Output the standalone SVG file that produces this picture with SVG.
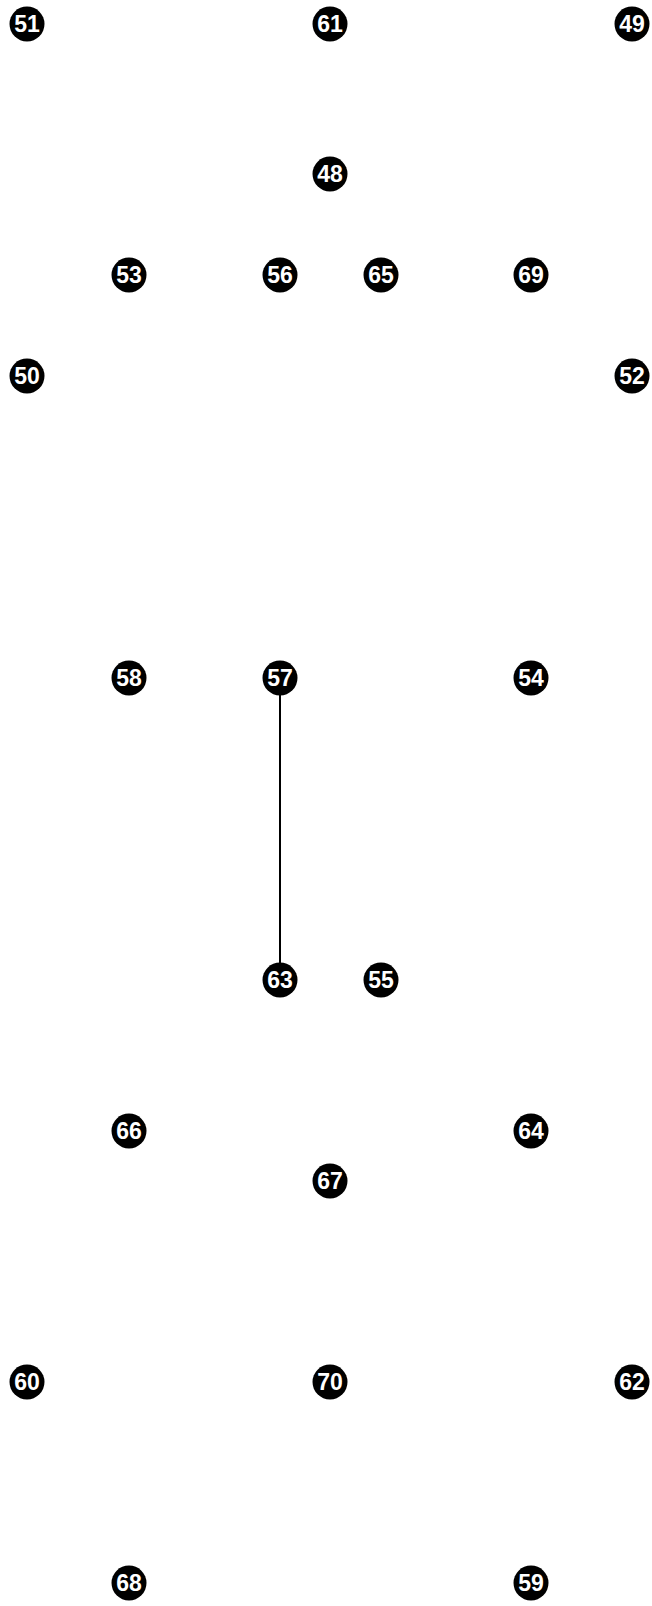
<svg xmlns="http://www.w3.org/2000/svg" width="652" height="1606" viewBox="0 0 652 1606">
<style>
.n circle{fill:#000;}
.n text{fill:#fff;font-family:"Liberation Sans",Arial,sans-serif;font-weight:bold;font-size:23px;text-anchor:middle;dominant-baseline:central;}
.e line{stroke:#000;stroke-width:2;}
</style>
<rect width="652" height="1606" fill="#fff"/>
<g id="edges" class="e">
<line x1="280" y1="678" x2="280" y2="980"/>
</g>
<g id="n51" class="n"><circle cx="27" cy="24" r="17.5"/><text x="27" y="24">51</text></g>
<g id="n61" class="n"><circle cx="330" cy="24" r="17.5"/><text x="330" y="24">61</text></g>
<g id="n49" class="n"><circle cx="632" cy="24" r="17.5"/><text x="632" y="24">49</text></g>
<g id="n48" class="n"><circle cx="330" cy="174" r="17.5"/><text x="330" y="174">48</text></g>
<g id="n53" class="n"><circle cx="129" cy="275" r="17.5"/><text x="129" y="275">53</text></g>
<g id="n56" class="n"><circle cx="280" cy="275" r="17.5"/><text x="280" y="275">56</text></g>
<g id="n65" class="n"><circle cx="381" cy="275" r="17.5"/><text x="381" y="275">65</text></g>
<g id="n69" class="n"><circle cx="531" cy="275" r="17.5"/><text x="531" y="275">69</text></g>
<g id="n50" class="n"><circle cx="27" cy="376" r="17.5"/><text x="27" y="376">50</text></g>
<g id="n52" class="n"><circle cx="632" cy="376" r="17.5"/><text x="632" y="376">52</text></g>
<g id="n58" class="n"><circle cx="129" cy="678" r="17.5"/><text x="129" y="678">58</text></g>
<g id="n57" class="n"><circle cx="280" cy="678" r="17.5"/><text x="280" y="678">57</text></g>
<g id="n54" class="n"><circle cx="531" cy="678" r="17.5"/><text x="531" y="678">54</text></g>
<g id="n63" class="n"><circle cx="280" cy="980" r="17.5"/><text x="280" y="980">63</text></g>
<g id="n55" class="n"><circle cx="381" cy="980" r="17.5"/><text x="381" y="980">55</text></g>
<g id="n66" class="n"><circle cx="129" cy="1131" r="17.5"/><text x="129" y="1131">66</text></g>
<g id="n64" class="n"><circle cx="531" cy="1131" r="17.5"/><text x="531" y="1131">64</text></g>
<g id="n67" class="n"><circle cx="330" cy="1181" r="17.5"/><text x="330" y="1181">67</text></g>
<g id="n60" class="n"><circle cx="27" cy="1382" r="17.5"/><text x="27" y="1382">60</text></g>
<g id="n70" class="n"><circle cx="330" cy="1382" r="17.5"/><text x="330" y="1382">70</text></g>
<g id="n62" class="n"><circle cx="632" cy="1382" r="17.5"/><text x="632" y="1382">62</text></g>
<g id="n68" class="n"><circle cx="129" cy="1583" r="17.5"/><text x="129" y="1583">68</text></g>
<g id="n59" class="n"><circle cx="531" cy="1583" r="17.5"/><text x="531" y="1583">59</text></g>
</svg>
